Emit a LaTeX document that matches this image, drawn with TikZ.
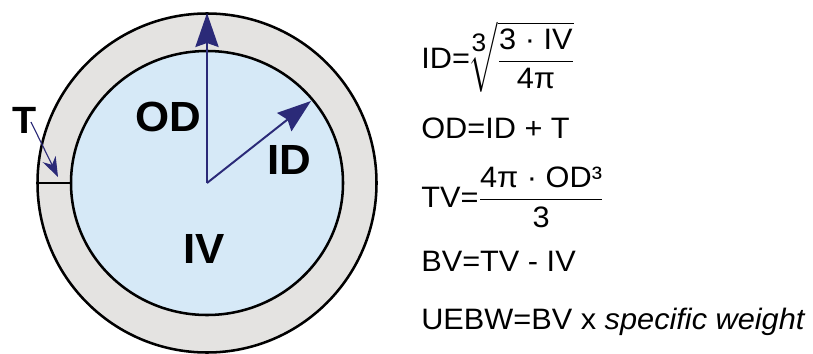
\documentclass[tikz,border=0pt]{standalone}
\usepackage{amsmath}
\usepackage{fontspec}
\setmainfont{Liberation Sans}[FakeStretch=1.04]
\usepackage{tikz}
\usetikzlibrary{arrows.meta, positioning}

\definecolor{navy}{HTML}{2B2A78}
\definecolor{ringgray}{HTML}{E4E3E1}
\definecolor{fluid}{HTML}{D6E9F7}

\begin{document}
\begin{tikzpicture}[x=0.025cm, y=-0.025cm,
    ptr/.style={draw=navy, line width=1.4pt, -{Stealth[length=8.5mm, width=5.8mm, inset=1mm]}},
    lbl/.style={font=\fontsize{30}{36}\selectfont\bfseries, inner sep=0pt},
    eq/.style={font=\fontsize{21}{25}\selectfont, inner sep=0pt, anchor=west}]
    \useasboundingbox (0,0) rectangle (813,354);
    % sphere: shell and content
    \coordinate (c) at (207,183);
    \fill[ringgray] (c) circle [radius=169.5];
    \fill[fluid] (c) ellipse [x radius=136, y radius=132];
    \draw[line width=1.8pt] (c) circle [radius=169.5];
    \draw[line width=1.8pt] (c) ellipse [x radius=136, y radius=132];
    \coordinate (wallout) at (38,183);
    \coordinate (wallin) at (71,183);
    \draw[line width=1.4pt] (wallout) -- (wallin);

    \node[lbl] (od) at (168,117) {OD};
    \node[lbl] (id) at (289,160) {ID};
    \node[lbl] (iv) at (204,249) {IV};
    \node[lbl, font=\fontsize{27}{32}\selectfont\bfseries] (t) at (25,120) {T};

    \coordinate (odtip) at (207,13);
    \coordinate (idtip) at (311,101);
    \coordinate (ttail) at (31,122);
    \coordinate (ttip) at (58,177);
    \draw[ptr] (c) -- (odtip);
    \draw[ptr] (c) -- (idtip);
    \draw[draw=navy, line width=0.8pt, -{Stealth[length=5mm, width=3.6mm]}] (ttail) -- (ttip);

    % formulas
    \node[eq] (f1) at (421,57) {ID=$\mkern-5mu\sqrt[\leftroot{-1}\uproot{2}\mbox{\fontsize{18}{18}\selectfont 3}]{\dfrac{\text{3 · IV}}{\text{4π}}}$};
    \node[eq] (f2) at (421,128) {OD=ID + T};
    \node[eq] (f3) at (421,197) {TV=$\dfrac{\text{4π · OD³}}{\text{3}}$};
    \node[eq] (f4) at (421,261) {BV=TV - IV};
    \node[eq] (f5) at (421,322) {UEBW=BV x \textit{specific weight}};
\end{tikzpicture}
\end{document}
